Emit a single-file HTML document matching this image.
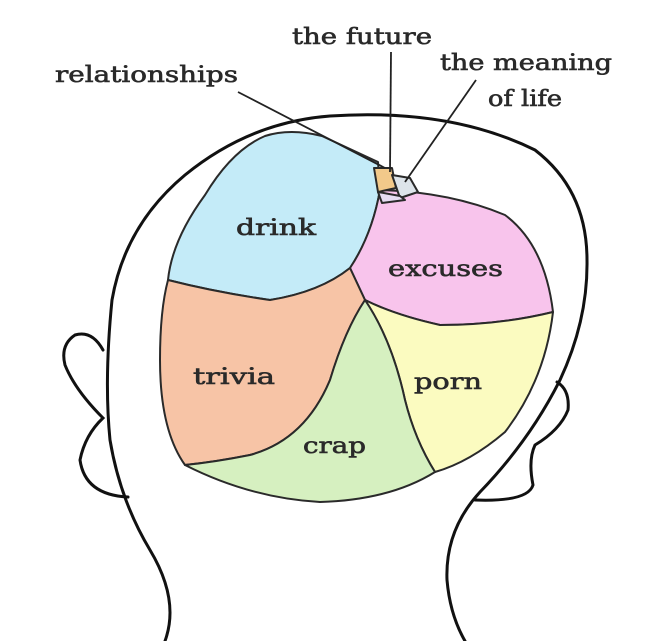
<!DOCTYPE html>
<html><head><meta charset="utf-8"><style>html,body{margin:0;padding:0;background:#fff}svg{display:block}</style></head>
<body>
<svg width="650" height="641" viewBox="0 0 650 641" xmlns="http://www.w3.org/2000/svg">
<g stroke="#2a2a2a" stroke-width="2" stroke-linejoin="round">
<path d="M265,136 Q290,128 322,136 L378,162 L380,190 Q372,235 350,268 Q320,292 270,300 Q215,292 168,280 Q172,240 205,195 Q232,150 265,136 Z" fill="#c4ebf8"/>
<path d="M380,190 Q450,192 505,215 Q545,245 553,312 Q500,325 440,325 Q395,315 365,300 L350,268 Q372,235 380,190 Z" fill="#f8c4ec"/>
<path d="M365,300 Q395,315 440,325 Q500,325 553,312 Q545,380 505,432 Q470,462 435,472 Q415,440 405,400 Q392,340 365,300 Z" fill="#fbfbc0"/>
<path d="M168,280 Q215,292 270,300 Q320,292 350,268 L365,300 Q345,330 330,380 Q305,440 250,455 Q215,462 185,465 Q160,430 160,360 Q160,310 168,280 Z" fill="#f7c4a6"/>
<path d="M365,300 Q392,340 405,400 Q415,440 435,472 Q390,500 320,502 Q250,498 185,465 Q215,462 250,455 Q305,440 330,380 Q345,330 365,300 Z" fill="#d6f0c0"/>
<path d="M374,168 L392,168 L396,188 L378,192 Z" fill="#f2c98a"/>
<path d="M392,175 L410,178 L418,192 L400,198 Z" fill="#dde4ea"/>
<path d="M378,192 L400,196 L405,200 L382,203 Z" fill="#e6dcf2"/>
</g>
<g fill="none" stroke="#111" stroke-width="3" stroke-linecap="round">
<path d="M165,641 Q180,600 150,550 Q120,500 110,440 Q104,380 112,300 Q125,225 185,175 Q250,122 330,116 Q450,108 535,150 Q587,190 587,260 Q588,320 560,380 Q530,440 480,492 Q445,530 447,580 Q450,615 465,641"/>
<path d="M103,350 Q92,330 75,335 Q60,345 65,365 Q75,390 103,418 Q85,435 80,460 Q85,495 128,497"/>
<path d="M557,382 Q570,390 568,410 Q560,430 535,445 Q528,460 533,485 Q528,502 475,500"/>
</g>
<g stroke="#222" stroke-width="1.8" fill="none">
<line x1="238" y1="92" x2="385" y2="168"/>
<line x1="391" y1="52" x2="390" y2="172"/>
<line x1="476" y1="80" x2="405" y2="182"/>
</g>
<g font-family="'DejaVu Serif','Liberation Serif',serif" font-size="22" fill="#2a2a2a" stroke="#2a2a2a" stroke-width="0.6">
<text x="292" y="44" textLength="140" lengthAdjust="spacingAndGlyphs">the future</text>
<text x="55" y="82" textLength="183" lengthAdjust="spacingAndGlyphs">relationships</text>
<text x="440" y="70" textLength="172" lengthAdjust="spacingAndGlyphs">the meaning</text>
<text x="488" y="106" textLength="74" lengthAdjust="spacingAndGlyphs">of life</text>
<text x="236" y="235" textLength="80" lengthAdjust="spacingAndGlyphs">drink</text>
<text x="388" y="276" textLength="115" lengthAdjust="spacingAndGlyphs">excuses</text>
<text x="193" y="384" textLength="82" lengthAdjust="spacingAndGlyphs">trivia</text>
<text x="414" y="389" textLength="68" lengthAdjust="spacingAndGlyphs">porn</text>
<text x="303" y="453" textLength="63" lengthAdjust="spacingAndGlyphs">crap</text>
</g>
</svg>
</body></html>
